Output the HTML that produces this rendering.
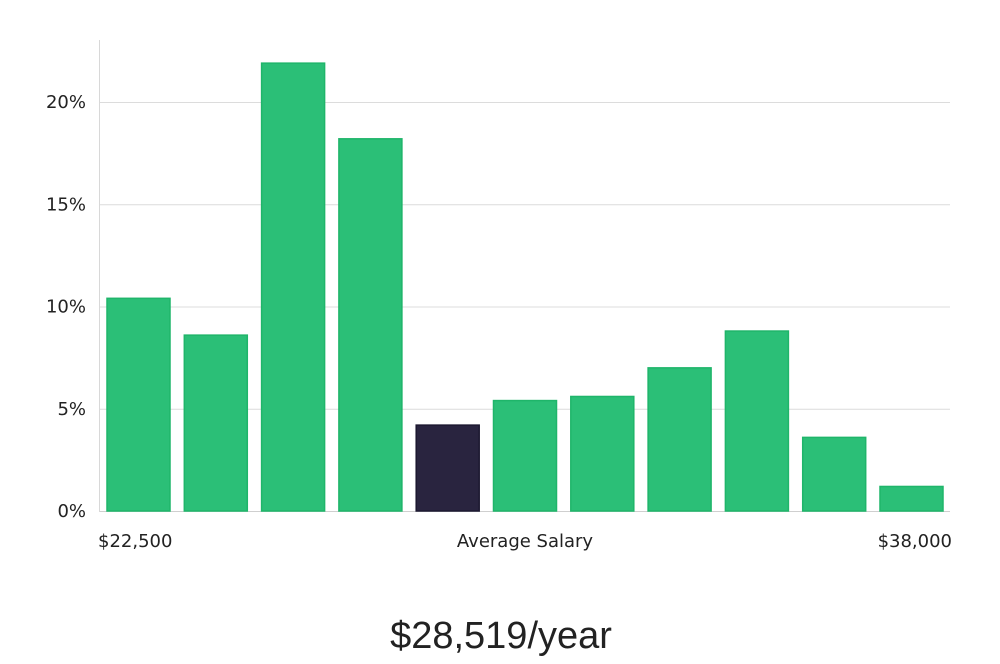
<!DOCTYPE html>
<html><head><meta charset="utf-8"><style>
body{margin:0;background:#fff;width:1000px;height:660px;overflow:hidden;font-family:"DejaVu Sans","Liberation Sans",sans-serif;}
</style></head><body>
<svg id="chart" width="1000" height="660" xmlns="http://www.w3.org/2000/svg">
<g id="grid"></g>
<g id="bars"></g>
<g id="yticks"></g>
<line x1="99.5" y1="40" x2="99.5" y2="512" stroke="#d8d8d8"/>
<text x="98" y="547" font-size="18" fill="#222">$22,500</text>
<text x="525" y="547" font-size="18" fill="#222" text-anchor="middle">Average Salary</text>
<text x="952" y="547" font-size="18" fill="#222" text-anchor="end">$38,000</text>
<text x="501" y="648" font-size="38" fill="#222" text-anchor="middle" font-family="Liberation Sans, sans-serif">$28,519/year</text>
</svg>
<script>
const values=[10.4,8.6,21.9,18.2,4.2,5.4,5.6,7.0,8.8,3.6,1.2];
const highlightIndex=4;
const yTicks=[0,5,10,15,20];
const yTickLabels=["0%","5%","10%","15%","20%"];
const NS="http://www.w3.org/2000/svg";
const y=v=>511-v*20.45;
const x0=107,step=77.3,bw=63;
const grid=document.getElementById('grid'),yt=document.getElementById('yticks'),bars=document.getElementById('bars');
yTicks.forEach((t,i)=>{
 const l=document.createElementNS(NS,'line');
 
 
 l.setAttribute('x1',99);l.setAttribute('x2',950);l.setAttribute('y1',y(t)+0.5);l.setAttribute('y2',y(t)+0.5);
 l.setAttribute('stroke',t===0?'#cfcfcf':'#dcdcdc');grid.appendChild(l);
 const tx=document.createElementNS(NS,'text');
 
 
 tx.setAttribute('x',86);tx.setAttribute('y',y(t)+6);tx.setAttribute('text-anchor','end');
 tx.setAttribute('font-size','18');tx.setAttribute('fill','#222');tx.textContent=yTickLabels[i];yt.appendChild(tx);
});
values.forEach((v,i)=>{
 const r=document.createElementNS(NS,'rect');
 
 
 r.setAttribute('x',x0+i*step);r.setAttribute('y',y(v));r.setAttribute('width',bw);r.setAttribute('height',511-y(v));
 const hi=i===highlightIndex;
 r.setAttribute('fill',hi?'#29243f':'#2bbf77');r.setAttribute('stroke',hi?'#1c1830':'#1fb56a');r.setAttribute('stroke-width','1.5');
 bars.appendChild(r);
});
</script>
</body></html>
